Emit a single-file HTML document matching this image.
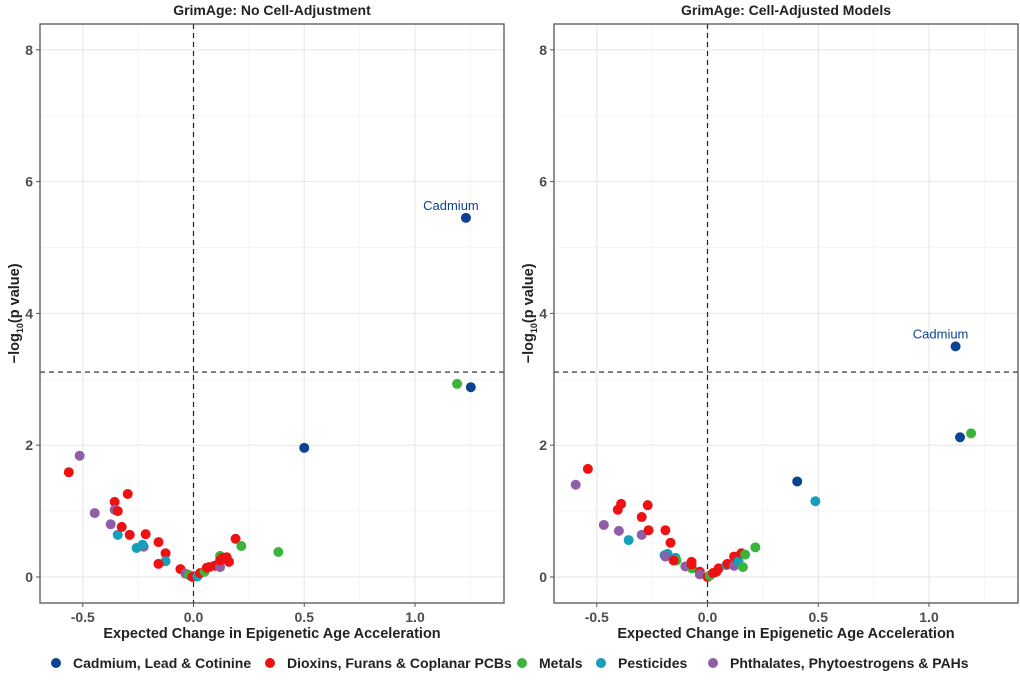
<!DOCTYPE html>
<html><head><meta charset="utf-8">
<style>
body{margin:0;background:#fff;font-family:"Liberation Sans",Arial,sans-serif;}
svg text{font-family:"Liberation Sans",Arial,sans-serif;}
</style></head>
<body>
<svg id="chart" width="1020" height="676" viewBox="0 0 1020 676" xmlns="http://www.w3.org/2000/svg"></svg>
<script>
const groups=["Cadmium, Lead & Cotinine","Dioxins, Furans & Coplanar PCBs","Metals","Pesticides","Phthalates, Phytoestrogens & PAHs"];
const colors=["#0b4393","#ee1111","#3cb43c","#14a0b8","#8e5ea6"];
const xTicks=[-0.5,0,0.5,1.0];
const xTickLabels=["-0.5","0.0","0.5","1.0"];
const yTicks=[0,2,4,6,8];
const threshold=3.11;
const titles=["GrimAge: No Cell-Adjustment","GrimAge: Cell-Adjusted Models"];
const p1x=[-0.563,-0.514,-0.446,-0.356,-0.356,-0.342,-0.297,-0.374,-0.342,-0.324,-0.288,-0.216,-0.257,-0.225,-0.230,-0.158,-0.126,-0.126,-0.158,-0.059,-0.036,-0.014,-0.02,-0.005,0.006,0.018,0.03,0.05,0.06,0.07,0.095,0.12,0.12,0.12,0.13,0.15,0.16,0.19,0.216,0.383,0.50,1.252,1.19,1.23];
const p1y=[1.59,1.84,0.97,1.14,1.02,1.00,1.26,0.80,0.64,0.76,0.64,0.65,0.44,0.46,0.49,0.53,0.36,0.24,0.20,0.12,0.05,0.02,0.03,0.0,0.01,0.01,0.06,0.08,0.14,0.15,0.17,0.15,0.32,0.25,0.29,0.30,0.23,0.58,0.47,0.38,1.96,2.88,2.93,5.45];
const p1g=[1,4,4,1,4,1,1,4,3,1,1,1,3,4,3,1,1,3,1,1,4,3,2,1,1,3,1,2,1,1,1,4,2,1,1,1,1,1,2,2,0,0,2,0];
const p2x=[-0.54,-0.595,-0.39,-0.405,-0.27,-0.297,-0.468,-0.40,-0.356,-0.297,-0.266,-0.19,-0.167,-0.194,-0.18,-0.19,-0.144,-0.14,-0.153,-0.1,-0.07,-0.072,-0.072,-0.035,-0.035,0.0,0.01,0.025,0.04,0.05,0.085,0.09,0.12,0.12,0.14,0.16,0.153,0.17,0.216,0.405,0.487,1.12,1.14,1.19];
const p2y=[1.64,1.40,1.11,1.02,1.09,0.91,0.79,0.70,0.56,0.64,0.71,0.71,0.52,0.33,0.35,0.31,0.29,0.25,0.25,0.16,0.13,0.23,0.19,0.08,0.04,0.0,0.02,0.06,0.08,0.13,0.18,0.20,0.17,0.31,0.24,0.15,0.36,0.34,0.45,1.45,1.15,3.50,2.12,2.18];
const p2g=[1,4,1,1,1,1,4,4,3,4,1,1,1,3,3,4,3,2,1,4,2,1,1,1,4,1,2,1,1,1,3,1,4,1,3,2,1,2,2,0,3,0,0,2];
const panels=[{x:p1x,y:p1y,g:p1g,label:[1.23,5.45]},{x:p2x,y:p2y,g:p2g,label:[1.12,3.50]}];
const offsets=[40,554];
const svg=document.getElementById('chart');
const NS='http://www.w3.org/2000/svg';
function mk(t,a,par){const e=document.createElementNS(NS,t);for(const k in a)e.setAttribute(k,a[k]);(par||svg).appendChild(e);return e;}
const W=464,pTop=24,pBot=603,X0=153.5,XS=221.5,Y0=577,YS=65.9;
panels.forEach((p,i)=>{
  const L=offsets[i];
  const sx=v=>L+X0+v*XS, sy=v=>Y0-v*YS;
  const g=mk('g',{});
  
  
  [-0.25,0.25,0.75,1.25].forEach(v=>mk('line',{x1:sx(v),x2:sx(v),y1:pTop,y2:pBot,stroke:'#f0f0f0','stroke-width':0.6},g));
  [1,3,5,7].forEach(v=>mk('line',{x1:L,x2:L+W,y1:sy(v),y2:sy(v),stroke:'#f0f0f0','stroke-width':0.6},g));
  xTicks.forEach((v,k)=>{
    mk('line',{x1:sx(v),x2:sx(v),y1:pTop,y2:pBot,stroke:'#e6e6e6','stroke-width':1},g);
    mk('line',{x1:sx(v),x2:sx(v),y1:pBot,y2:pBot+4,stroke:'#555','stroke-width':1},g);
    const t=mk('text',{x:sx(v),y:pBot+19,'text-anchor':'middle','font-size':14,'font-weight':'bold',fill:'#4d4d4d'},g);
    t.textContent=xTickLabels[k];
    
    
  });
  yTicks.forEach(v=>{
    mk('line',{x1:L,x2:L+W,y1:sy(v),y2:sy(v),stroke:'#e6e6e6','stroke-width':1},g);
    mk('line',{x1:L-4,x2:L,y1:sy(v),y2:sy(v),stroke:'#555','stroke-width':1},g);
    const t=mk('text',{x:L-7,y:sy(v)+5,'text-anchor':'end','font-size':14,'font-weight':'bold',fill:'#4d4d4d'},g);
    t.textContent=String(v);
    
    
  });
  mk('line',{x1:sx(0),x2:sx(0),y1:pTop,y2:pBot,stroke:'#222','stroke-width':1.2,'stroke-dasharray':'5,4'},g);
  mk('line',{x1:L,x2:L+W,y1:sy(threshold),y2:sy(threshold),stroke:'#222','stroke-width':1.2,'stroke-dasharray':'5,4'},g);
  p.x.forEach((xv,k)=>{
    const c=mk('circle',{cx:sx(xv),cy:sy(p.y[k]),r:5,fill:colors[p.g[k]]},g);
    
    
  });
  const lb=mk('text',{x:sx(p.label[0])-15,y:sy(p.label[1])-8,'text-anchor':'middle','font-size':13,fill:'#0b4393'},g);
  lb.textContent='Cadmium';
  
  
  mk('rect',{x:L,y:pTop,width:W,height:pBot-pTop,fill:'none',stroke:'#555','stroke-width':1.3},g);
  const tt=mk('text',{x:L+W/2,y:15,'text-anchor':'middle','font-size':14,'font-weight':'bold',fill:'#222'},g);
  tt.textContent=titles[i];
  
  
  const xt=mk('text',{x:L+W/2,y:638,'text-anchor':'middle','font-size':14.5,'font-weight':'bold',fill:'#222'},g);
  xt.textContent='Expected Change in Epigenetic Age Acceleration';
  
  
  const yt=mk('text',{transform:`translate(${L-21},${sy(4)}) rotate(-90)`,'text-anchor':'middle','font-size':14.5,'font-weight':'bold',fill:'#222'},g);
  yt.innerHTML='\u2212log<tspan font-size="9" dy="4">10</tspan><tspan dy="-4">(p value)</tspan>';
  
  
});
const legX=[56,270,522,601,713];
groups.forEach((name,k)=>{
  const g=mk('g',{});
  
  
  mk('circle',{cx:legX[k],cy:663,r:5,fill:colors[k]},g);
  const t=mk('text',{x:legX[k]+17,y:668,'font-size':14,'font-weight':'bold',fill:'#222'},g);
  t.textContent=name;
});
</script>
</body></html>
